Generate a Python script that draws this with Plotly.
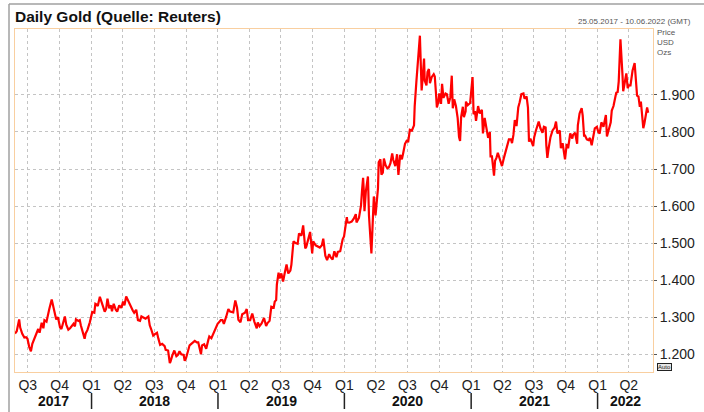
import plotly.graph_objects as go
import pandas as pd

# ---------------- data ----------------
dates = [
    "2017-05-25","2017-05-30","2017-06-06","2017-06-09","2017-06-15","2017-06-21","2017-06-26","2017-06-30",
    "2017-07-05","2017-07-10","2017-07-14","2017-07-19","2017-07-25","2017-07-31","2017-08-04","2017-08-10",
    "2017-08-15","2017-08-18","2017-08-24","2017-08-29","2017-09-01","2017-09-08","2017-09-12","2017-09-15",
    "2017-09-21","2017-09-26","2017-10-02","2017-10-06","2017-10-12","2017-10-16","2017-10-20","2017-10-26",
    "2017-10-31","2017-11-06","2017-11-10","2017-11-14","2017-11-17","2017-11-24","2017-11-28","2017-12-01",
    "2017-12-06","2017-12-12","2017-12-15","2017-12-20","2017-12-27",
    "2018-01-03","2018-01-09","2018-01-12","2018-01-16","2018-01-19","2018-01-25","2018-01-30","2018-02-02",
    "2018-02-08","2018-02-12","2018-02-16","2018-02-21","2018-02-26","2018-03-01","2018-03-06","2018-03-12",
    "2018-03-16","2018-03-22","2018-03-28","2018-04-02","2018-04-06","2018-04-11","2018-04-16","2018-04-19",
    "2018-04-24","2018-04-30","2018-05-04","2018-05-10","2018-05-15","2018-05-21","2018-05-25","2018-05-31",
    "2018-06-06","2018-06-14","2018-06-18","2018-06-22","2018-06-28","2018-07-03","2018-07-09","2018-07-13",
    "2018-07-18","2018-07-24","2018-07-31","2018-08-03","2018-08-10","2018-08-15","2018-08-17","2018-08-22",
    "2018-08-28","2018-09-03","2018-09-07","2018-09-12","2018-09-17","2018-09-24","2018-09-27","2018-10-01",
    "2018-10-05","2018-10-11","2018-10-16","2018-10-24","2018-10-26","2018-11-01","2018-11-05","2018-11-13",
    "2018-11-16","2018-11-22","2018-11-28","2018-12-04","2018-12-07","2018-12-13","2018-12-20","2018-12-27",
    "2018-12-31",
    "2019-01-04","2019-01-09","2019-01-14","2019-01-18","2019-01-25","2019-01-31","2019-02-05","2019-02-08",
    "2019-02-14","2019-02-20","2019-02-25","2019-03-01","2019-03-07","2019-03-12","2019-03-20","2019-03-25",
    "2019-03-29","2019-04-04","2019-04-10","2019-04-16","2019-04-23","2019-04-26","2019-05-01","2019-05-07",
    "2019-05-14","2019-05-20","2019-05-24","2019-05-30","2019-06-04","2019-06-11","2019-06-14","2019-06-18",
    "2019-06-20","2019-06-25","2019-06-28","2019-07-03","2019-07-08","2019-07-12","2019-07-18","2019-07-23",
    "2019-07-29","2019-08-01","2019-08-07","2019-08-13","2019-08-19","2019-08-23","2019-08-30","2019-09-04",
    "2019-09-10","2019-09-13","2019-09-18","2019-09-24","2019-09-30","2019-10-03","2019-10-10","2019-10-16",
    "2019-10-22","2019-10-28","2019-11-01","2019-11-07","2019-11-12","2019-11-18","2019-11-22","2019-11-28",
    "2019-12-03","2019-12-09","2019-12-13","2019-12-20","2019-12-27","2019-12-31",
    "2020-01-06","2020-01-08","2020-01-10","2020-01-15","2020-01-22","2020-01-28","2020-02-03","2020-02-05",
    "2020-02-12","2020-02-18","2020-02-21","2020-02-24","2020-02-26","2020-02-28","2020-03-03","2020-03-06",
    "2020-03-09","2020-03-12","2020-03-16","2020-03-19","2020-03-23","2020-03-24","2020-03-26","2020-03-31",
    "2020-04-03","2020-04-07","2020-04-09","2020-04-14","2020-04-17","2020-04-21","2020-04-24","2020-04-29",
    "2020-05-04","2020-05-08","2020-05-13","2020-05-18","2020-05-21","2020-05-27","2020-06-01","2020-06-05",
    "2020-06-10","2020-06-15","2020-06-19","2020-06-24","2020-06-30","2020-07-03","2020-07-08","2020-07-14",
    "2020-07-20","2020-07-22","2020-07-27","2020-07-29","2020-07-31","2020-08-04","2020-08-06","2020-08-07",
    "2020-08-11","2020-08-14","2020-08-18","2020-08-20","2020-08-25","2020-08-28","2020-09-01","2020-09-04",
    "2020-09-09","2020-09-15","2020-09-18","2020-09-21","2020-09-24","2020-09-28","2020-10-01","2020-10-06",
    "2020-10-09","2020-10-13","2020-10-19","2020-10-23","2020-10-28","2020-11-02","2020-11-06","2020-11-09",
    "2020-11-13","2020-11-18","2020-11-23","2020-11-27","2020-11-30","2020-12-03","2020-12-08","2020-12-11",
    "2020-12-16","2020-12-17","2020-12-22","2020-12-29","2020-12-31",
    "2021-01-05","2021-01-06","2021-01-08","2021-01-12","2021-01-15","2021-01-21","2021-01-26","2021-02-01",
    "2021-02-04","2021-02-09","2021-02-16","2021-02-19","2021-02-24","2021-02-26","2021-03-02","2021-03-08",
    "2021-03-11","2021-03-15","2021-03-19","2021-03-24","2021-03-31","2021-04-05","2021-04-09","2021-04-15",
    "2021-04-20","2021-04-26","2021-04-29","2021-05-03","2021-05-07","2021-05-12","2021-05-17","2021-05-21",
    "2021-05-26","2021-06-01","2021-06-04","2021-06-10","2021-06-14","2021-06-17","2021-06-21","2021-06-29",
    "2021-07-02","2021-07-07","2021-07-15","2021-07-20","2021-07-26","2021-07-30","2021-08-04","2021-08-06",
    "2021-08-09","2021-08-12","2021-08-18","2021-08-24","2021-08-30","2021-09-03","2021-09-07","2021-09-14",
    "2021-09-17","2021-09-22","2021-09-29","2021-10-04","2021-10-08","2021-10-14","2021-10-20","2021-10-22",
    "2021-10-28","2021-11-03","2021-11-05","2021-11-10","2021-11-16","2021-11-19","2021-11-23","2021-11-26",
    "2021-12-01","2021-12-06","2021-12-10","2021-12-15","2021-12-20","2021-12-24","2021-12-30",
    "2022-01-03","2022-01-07","2022-01-12","2022-01-18","2022-01-25","2022-01-28","2022-02-03","2022-02-08",
    "2022-02-11","2022-02-16","2022-02-22","2022-02-24","2022-02-28","2022-03-03","2022-03-08","2022-03-10",
    "2022-03-14","2022-03-16","2022-03-21","2022-03-25","2022-03-29","2022-04-01","2022-04-06","2022-04-12",
    "2022-04-18","2022-04-21","2022-04-25","2022-04-29","2022-05-03","2022-05-06","2022-05-10","2022-05-13",
    "2022-05-16","2022-05-20","2022-05-24","2022-05-27",
]
prices = [
    1256,1262,1294,1272,1255,1245,1246,1242,
    1220,1208,1228,1240,1252,1268,1258,1285,
    1270,1292,1288,1315,1322,1348,1330,1320,
    1294,1300,1272,1268,1294,1302,1280,1266,
    1270,1278,1282,1275,1294,1290,1292,1278,
    1262,1242,1256,1265,1286,
    1314,1312,1336,1334,1330,1355,1340,1335,
    1315,1322,1350,1324,1332,1316,1336,1320,
    1315,1332,1325,1342,1332,1356,1346,1336,
    1326,1318,1312,1320,1292,1290,1302,1298,
    1296,1302,1278,1268,1250,1254,1258,1242,
    1225,1228,1222,1212,1210,1176,1180,1196,
    1210,1195,1198,1208,1200,1198,1182,1190,
    1204,1224,1228,1234,1236,1232,1232,1200,
    1224,1227,1215,1238,1248,1243,1258,1276,
    1282,
    1286,1292,1292,1282,1302,1322,1315,1314,
    1313,1345,1326,1293,1286,1308,1312,1322,
    1292,1292,1310,1288,1270,1286,1276,1283,
    1298,1276,1284,1290,1328,1326,1342,1346,
    1388,1420,1405,1418,1396,1416,1442,1418,
    1426,1442,1505,1500,1498,1526,1520,1548,
    1486,1490,1512,1530,1472,1505,1494,1490,
    1488,1494,1512,1466,1454,1470,1462,1456,
    1478,1462,1476,1478,1510,1518,
    1566,1570,1556,1555,1558,1566,1578,1556,
    1568,1602,1643,1676,1642,1586,1640,1670,
    1680,1574,1510,1472,1560,1622,1626,1575,
    1620,1648,1718,1726,1685,1690,1728,1710,
    1702,1704,1716,1742,1725,1708,1740,1684,
    1738,1726,1744,1768,1778,1772,1806,1804,
    1818,1870,1938,1962,1975,2018,2060,2030,
    1912,1946,1998,1938,1926,1962,1970,1932,
    1948,1956,1950,1910,1866,1880,1904,1876,
    1930,1892,1904,1902,1876,1894,1952,1864,
    1888,1870,1838,1786,1776,1840,1868,1840,
    1856,1882,1872,1878,1896,
    1948,1920,1848,1856,1830,1870,1850,1860,
    1796,1838,1798,1784,1800,1734,1734,1682,
    1722,1730,1744,1728,1708,1728,1744,1764,
    1780,1780,1770,1792,1832,1816,1866,1880,
    1902,1904,1890,1896,1866,1774,1782,1762,
    1786,1804,1828,1810,1798,1814,1812,1764,
    1730,1752,1786,1804,1812,1828,1796,1804,
    1756,1770,1726,1768,1756,1796,1782,1792,
    1798,1768,1818,1850,1864,1845,1790,1790,
    1780,1778,1784,1764,1796,1810,1814,
    1800,1796,1826,1814,1846,1788,1806,1826,
    1858,1870,1898,1906,1908,1936,2050,2000,
    1952,1910,1935,1958,1918,1926,1926,1966,
    1986,1950,1898,1896,1868,1882,1840,1810,
    1822,1844,1866,1852,
]
last_date = "2022-06-19"
last_price = 1851

x_start = "2017-05-25"
x_end = "2022-06-10"

quarter_starts = [
    "2017-07-01","2017-10-01","2018-01-01","2018-04-01","2018-07-01","2018-10-01",
    "2019-01-01","2019-04-01","2019-07-01","2019-10-01","2020-01-01","2020-04-01",
    "2020-07-01","2020-10-01","2021-01-01","2021-04-01","2021-07-01","2021-10-01",
    "2022-01-01","2022-04-01",
]
quarter_labels = ["Q3","Q4","Q1","Q2","Q3","Q4","Q1","Q2","Q3","Q4","Q1","Q2",
                  "Q3","Q4","Q1","Q2","Q3","Q4","Q1","Q2"]
years = [2017, 2018, 2019, 2020, 2021, 2022]

y_ticks = [1200, 1300, 1400, 1500, 1600, 1700, 1800, 1900]
y_tick_labels = ["1.200","1.300","1.400","1.500","1.600","1.700","1.800","1.900"]
y_range = [1152, 2078]

title_text = "Daily Gold (Quelle: Reuters)"
range_text = "25.05.2017 - 10.06.2022 (GMT)"
unit_lines = ["Price", "USD", "Ozs"]

# ---------------- layout geometry ----------------
W, H = 704, 412
ML, MR, MT, MB = 15, 51, 29, 40
PW, PH = W - ML - MR, H - MT - MB

def px_x(px):
    return (px - ML) / PW

def px_y(py):
    return (H - MB - py) / PH

FONT = "Arial, Liberation Sans, sans-serif"

fig = go.Figure()
fig.add_trace(go.Scatter(
    x=dates, y=prices, mode="lines",
    line=dict(color="#ff0000", width=2.2),
    hoverinfo="skip", showlegend=False,
))
fig.add_trace(go.Scatter(
    x=[last_date], y=[last_price], mode="markers",
    marker=dict(color="#ff0000", size=3),
    cliponaxis=False, hoverinfo="skip", showlegend=False,
))

border = "#f9cfa0"
grid = "#c4c4c4"

fig.update_xaxes(
    range=[x_start, x_end], type="date",
    tickmode="array", tickvals=quarter_starts, ticktext=quarter_labels,
    showgrid=True, gridcolor=grid, griddash="dot", gridwidth=1,
    showline=True, linecolor=border, linewidth=1, mirror=True,
    ticks="",
    tickfont=dict(family=FONT, size=14, color="#222"),
    zeroline=False, fixedrange=True, automargin=False,
)
fig.update_yaxes(
    range=y_range, side="right",
    tickmode="array", tickvals=y_ticks, ticktext=y_tick_labels,
    showgrid=True, gridcolor=grid, griddash="dot", gridwidth=1,
    showline=True, linecolor=border, linewidth=1, mirror=True,
    ticks="outside", ticklen=3, tickcolor="#555",
    tickfont=dict(family=FONT, size=14, color="#222"),
    zeroline=False, fixedrange=True, automargin=False,
)

annotations = []
shapes = []
t0 = pd.Timestamp(x_start)
t1 = pd.Timestamp(x_end)
for yr in years:
    a = max(pd.Timestamp(f"{yr}-01-01"), t0)
    b = min(pd.Timestamp(f"{yr + 1}-01-01"), t1)
    mid = a + (b - a) / 2
    annotations.append(dict(
        x=mid, xref="x", y=px_y(401), yref="paper",
        text=f"<b>{yr}</b>", showarrow=False, xanchor="center", yanchor="middle",
        font=dict(family=FONT, size=14, color="#111"),
    ))
    if yr > years[0]:
        shapes.append(dict(
            type="line", xref="x", yref="paper",
            x0=f"{yr}-01-01", x1=f"{yr}-01-01", y0=px_y(393), y1=px_y(409),
            line=dict(color="#222", width=1.5),
        ))

annotations.append(dict(
    x=px_x(693), xref="paper", y=px_y(21), yref="paper",
    text=range_text, showarrow=False, xanchor="right", yanchor="middle",
    font=dict(family=FONT, size=8, color="#555"),
))
for i, line in enumerate(unit_lines):
    annotations.append(dict(
        x=px_x(655), xref="paper", y=px_y(33 + 9.5 * i), yref="paper",
        text=line, showarrow=False, xanchor="left", yanchor="middle",
        font=dict(family=FONT, size=8, color="#555"),
    ))
annotations.append(dict(
    x=px_x(657), xref="paper", y=px_y(367), yref="paper",
    text="Auto", showarrow=False, xanchor="left", yanchor="middle",
    font=dict(family=FONT, size=6, color="#222"),
    bordercolor="#222", borderwidth=1, borderpad=0, bgcolor="#e6e6e6",
))

# outer frame lines (top & left)
shapes.append(dict(type="line", xref="paper", yref="paper",
                   x0=px_x(9), x1=px_x(704), y0=px_y(4), y1=px_y(4),
                   line=dict(color="#a0a0a0", width=1.5)))
shapes.append(dict(type="line", xref="paper", yref="paper",
                   x0=px_x(9), x1=px_x(9), y0=px_y(4), y1=px_y(412),
                   line=dict(color="#a0a0a0", width=1.5)))

fig.update_layout(
    width=W, height=H,
    margin=dict(l=ML, r=MR, t=MT, b=MB, pad=0),
    paper_bgcolor="white", plot_bgcolor="white",
    title=dict(text=f"<b>{title_text}</b>", x=15 / W, xanchor="left",
               y=1 - 17 / H, yanchor="middle",
               font=dict(family=FONT, size=15.5, color="#111")),
    annotations=annotations, shapes=shapes,
    showlegend=False,
)

fig.write_html(
    "out.html",
    config={"displayModeBar": False},
    post_script="document.body.style.margin='0';document.body.style.padding='0';document.body.style.overflow='hidden';",
)
